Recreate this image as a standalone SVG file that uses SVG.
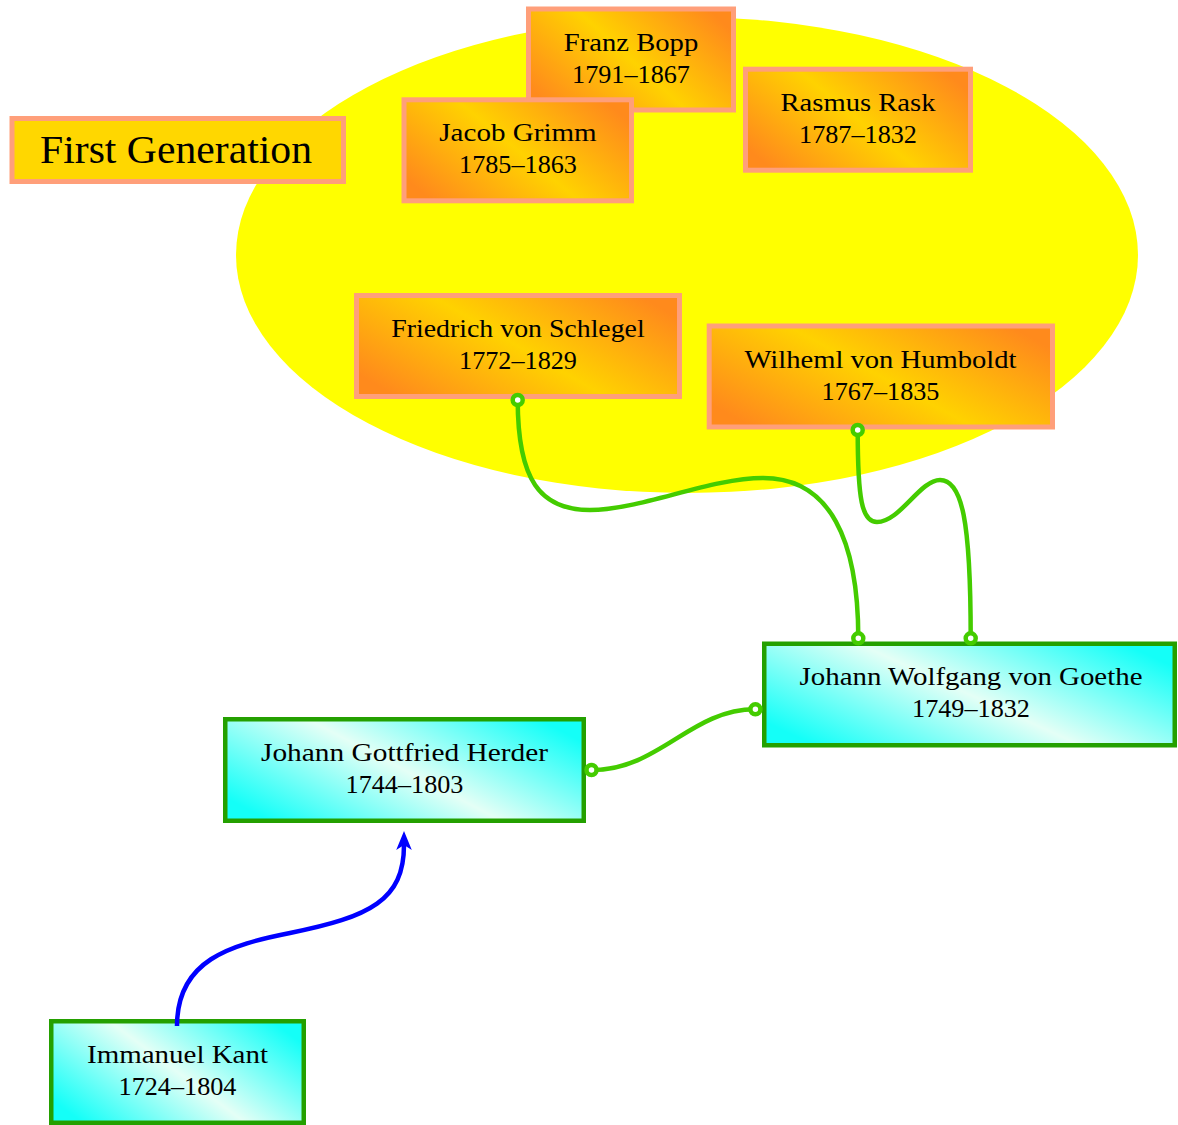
<svg xmlns="http://www.w3.org/2000/svg" width="1178" height="1125" viewBox="0 0 1178 1125">
  <defs>
    <linearGradient id="warm" x1="0" y1="0.77" x2="1" y2="0.23">
      <stop offset="0" stop-color="#FF8A1C"/>
      <stop offset="0.5" stop-color="#FFD200"/>
      <stop offset="1" stop-color="#FF8A1C"/>
    </linearGradient>
    <linearGradient id="cool" x1="0" y1="0.77" x2="1" y2="0.23">
      <stop offset="0" stop-color="#14FFF8"/>
      <stop offset="0.5" stop-color="#E4FFF6"/>
      <stop offset="1" stop-color="#14FFF8"/>
    </linearGradient>
    <marker id="ring" markerUnits="userSpaceOnUse" markerWidth="20" markerHeight="20" viewBox="-10 -10 20 20" refX="0" refY="0" orient="auto">
      <circle cx="0" cy="0" r="5" fill="#FFFFFF" stroke="#44CC00" stroke-width="4.5"/>
    </marker>
    <marker id="stealth" markerUnits="userSpaceOnUse" markerWidth="24" markerHeight="20" viewBox="0 -10 24 20" refX="5" refY="0" orient="auto">
      <path d="M0,-7.8 L19,0 L0,7.8 L5,0 Z" fill="#0000FF"/>
    </marker>
    <style>
      .gen { fill: url(#warm); stroke: #FF9F7A; stroke-width: 5; }
      .sage { fill: url(#cool); stroke: #24A000; stroke-width: 4.5; }
      .label { font-size: 26.2px; fill: #000000; text-anchor: middle; }
      .title { font-size: 39px; fill: #000000; text-anchor: middle; }
      .link { fill: none; stroke: #44CC00; stroke-width: 4.5; marker-start: url(#ring); marker-end: url(#ring); }
      .influence { fill: none; stroke: #0000FF; stroke-width: 4.5; marker-end: url(#stealth); }
    </style>
  </defs>

  <!-- backdrop behind the first generation -->
  <ellipse id="first-generation-area" cx="687" cy="255" rx="451" ry="238" fill="#FFFF00"/>

  <g font-family="'Liberation Serif', 'DejaVu Serif', 'Times New Roman', serif">
    <g id="first-generation-title">
      <rect x="12" y="118.5" width="331.5" height="63" fill="#FFD700" stroke="#FF9F7A" stroke-width="5"/>
      <text class="title" x="176" y="163.3" textLength="272" lengthAdjust="spacingAndGlyphs">First Generation</text>
    </g>

    <g id="bopp">
      <rect class="gen" x="528.5" y="9" width="205" height="101"/>
      <text class="label" x="631" y="50.5" textLength="134.5" lengthAdjust="spacingAndGlyphs">Franz Bopp</text>
      <text class="label" x="631" y="82.5">1791–1867</text>
    </g>

    <g id="grimm">
      <rect class="gen" x="404" y="99.8" width="227.5" height="101"/>
      <text class="label" x="518" y="140.8" textLength="157.4" lengthAdjust="spacingAndGlyphs">Jacob Grimm</text>
      <text class="label" x="518" y="172.8">1785–1863</text>
    </g>

    <g id="rask">
      <rect class="gen" x="745.5" y="69.2" width="225" height="101"/>
      <text class="label" x="858" y="110.7" textLength="155" lengthAdjust="spacingAndGlyphs">Rasmus Rask</text>
      <text class="label" x="858" y="142.7">1787–1832</text>
    </g>

    <g id="schlegel">
      <rect class="gen" x="356.5" y="295.5" width="323" height="101"/>
      <text class="label" x="518" y="337" textLength="253.4" lengthAdjust="spacingAndGlyphs">Friedrich von Schlegel</text>
      <text class="label" x="518" y="369">1772–1829</text>
    </g>

    <g id="humboldt">
      <rect class="gen" x="709.2" y="326" width="343.3" height="101"/>
      <text class="label" x="880.5" y="367.7" textLength="272" lengthAdjust="spacingAndGlyphs">Wilheml von Humboldt</text>
      <text class="label" x="880.5" y="399.7">1767–1835</text>
    </g>

    <g id="goethe">
      <rect class="sage" x="764.25" y="643.75" width="410.5" height="101.5"/>
      <text class="label" x="971" y="685.3" textLength="343" lengthAdjust="spacingAndGlyphs">Johann Wolfgang von Goethe</text>
      <text class="label" x="971" y="717.3">1749–1832</text>
    </g>

    <g id="herder">
      <rect class="sage" x="225.25" y="719.25" width="358.5" height="101.5"/>
      <text class="label" x="404.5" y="761" textLength="287" lengthAdjust="spacingAndGlyphs">Johann Gottfried Herder</text>
      <text class="label" x="404.5" y="793">1744–1803</text>
    </g>

    <g id="kant">
      <rect class="sage" x="51.25" y="1021.25" width="252.5" height="101.5"/>
      <text class="label" x="177.5" y="1063" textLength="181" lengthAdjust="spacingAndGlyphs">Immanuel Kant</text>
      <text class="label" x="177.5" y="1095">1724–1804</text>
    </g>
  </g>

  <g id="connectors">
    <path id="schlegel-goethe" class="link" d="M517.7,400 C517.7,480 540,510 590,510 C640,510 710,478 763,478 C830,478 858.3,540 858.3,638.3"/>
    <path id="humboldt-goethe" class="link" d="M857.7,430 C857.7,500 862,522 877,522 C900,522 920,480 940,480 C962,480 970.7,520 970.7,638.3"/>
    <path id="herder-goethe" class="link" d="M591.5,770 C660,770 690,709.3 755.4,709.3"/>
    <path id="kant-herder" class="influence" d="M177,1026 C177,960 230,945 290,933 C370,917 404,900 404,845"/>
  </g>
</svg>
